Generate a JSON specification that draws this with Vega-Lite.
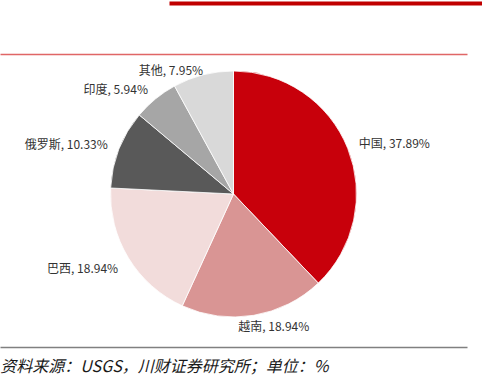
{
  "$schema": "https://vega.github.io/schema/vega-lite/v6.json",
  "width": 467,
  "height": 280,
  "autosize": {"type": "none"},
  "padding": {"left": 0, "top": 54, "right": 15, "bottom": 56},
  "background": "white",
  "config": {"view": {"stroke": null}, "text": {"font": "Noto Sans CJK SC", "fontSize": 12, "color": "#333333", "baseline": "middle", "radius": 135}},
  "data": {
    "values": [
      {"country": "中国", "value": 37.89, "label": "中国, 37.89%"},
      {"country": "越南", "value": 18.94, "label": "越南, 18.94%"},
      {"country": "巴西", "value": 18.94, "label": "巴西, 18.94%"},
      {"country": "俄罗斯", "value": 10.33, "label": "俄罗斯, 10.33%"},
      {"country": "印度", "value": 5.94, "label": "印度, 5.94%"},
      {"country": "其他", "value": 7.95, "label": "其他, 7.95%"}
    ]
  },
  "transform": [{"window": [{"op": "row_number", "as": "idx"}]}],
  "title": {
    "text": "资料来源：USGS，川财证券研究所；单位：%",
    "orient": "bottom",
    "anchor": "start",
    "font": "Noto Sans CJK SC",
    "fontStyle": "italic",
    "fontWeight": "normal",
    "fontSize": 16,
    "color": "#1a1a1a",
    "offset": 12,
    "dx": 3
  },
  "layer": [
    {
      "mark": {"type": "arc", "outerRadius": 123, "stroke": "white", "strokeWidth": 0.8},
      "encoding": {
        "theta": {"field": "value", "type": "quantitative", "stack": true},
        "order": {"field": "idx", "type": "quantitative"},
        "color": {
          "field": "country",
          "type": "nominal",
          "scale": {
            "domain": ["中国", "越南", "巴西", "俄罗斯", "印度", "其他"],
            "range": ["#C8000B", "#D99594", "#F2DCDB", "#595959", "#A6A6A6", "#D9D9D9"]
          },
          "legend": null
        }
      }
    },
    {
      "mark": {"type": "text", "align": "right"},
      "encoding": {
        "theta": {"field": "value", "type": "quantitative", "stack": true},
        "order": {"field": "idx", "type": "quantitative"},
        "text": {"condition": {"test": "datum.country === '俄罗斯' || datum.country === '印度'", "field": "label"}, "value": ""}
      }
    },
    {
      "mark": {"type": "text", "align": "right", "dy": 5},
      "encoding": {
        "theta": {"field": "value", "type": "quantitative", "stack": true},
        "order": {"field": "idx", "type": "quantitative"},
        "text": {"condition": {"test": "datum.country === '巴西'", "field": "label"}, "value": ""}
      }
    },
    {
      "mark": {"type": "text", "align": "right", "dy": 8, "dx": 3},
      "encoding": {
        "theta": {"field": "value", "type": "quantitative", "stack": true},
        "order": {"field": "idx", "type": "quantitative"},
        "text": {"condition": {"test": "datum.country === '其他'", "field": "label"}, "value": ""}
      }
    },
    {
      "mark": {"type": "text", "align": "left"},
      "encoding": {
        "theta": {"field": "value", "type": "quantitative", "stack": true},
        "order": {"field": "idx", "type": "quantitative"},
        "text": {"condition": {"test": "datum.country === '中国'", "field": "label"}, "value": ""}
      }
    },
    {
      "mark": {"type": "text", "align": "center", "dx": 18},
      "encoding": {
        "theta": {"field": "value", "type": "quantitative", "stack": true},
        "order": {"field": "idx", "type": "quantitative"},
        "text": {"condition": {"test": "datum.country === '越南'", "field": "label"}, "value": ""}
      }
    },
    {
      "mark": {"type": "point", "opacity": 0},
      "encoding": {
        "x": {"datum": 0, "type": "quantitative", "scale": {"domain": [0, 1], "nice": false},
          "axis": {"orient": "top", "offset": 0, "domainColor": "#E06666", "domainWidth": 1.5, "labels": false, "ticks": false, "grid": false, "title": null}}
      }
    },
    {
      "mark": {"type": "point", "opacity": 0},
      "encoding": {
        "x": {"datum": 0, "type": "quantitative", "scale": {"domain": [0, 1], "nice": false, "range": [169, 482]},
          "axis": {"orient": "top", "offset": 51, "domainColor": "#C00000", "domainWidth": 4, "domainCap": "butt", "labels": false, "ticks": false, "grid": false, "title": null}}
      }
    },
    {
      "mark": {"type": "point", "opacity": 0},
      "encoding": {
        "x": {"datum": 0, "type": "quantitative", "scale": {"domain": [0, 1], "nice": false},
          "axis": {"orient": "bottom", "offset": 13, "domainColor": "#808080", "domainWidth": 1.5, "labels": false, "ticks": false, "grid": false, "title": null}}
      }
    }
  ],
  "resolve": {"scale": {"x": "independent"}, "axis": {"x": "independent"}}
}
